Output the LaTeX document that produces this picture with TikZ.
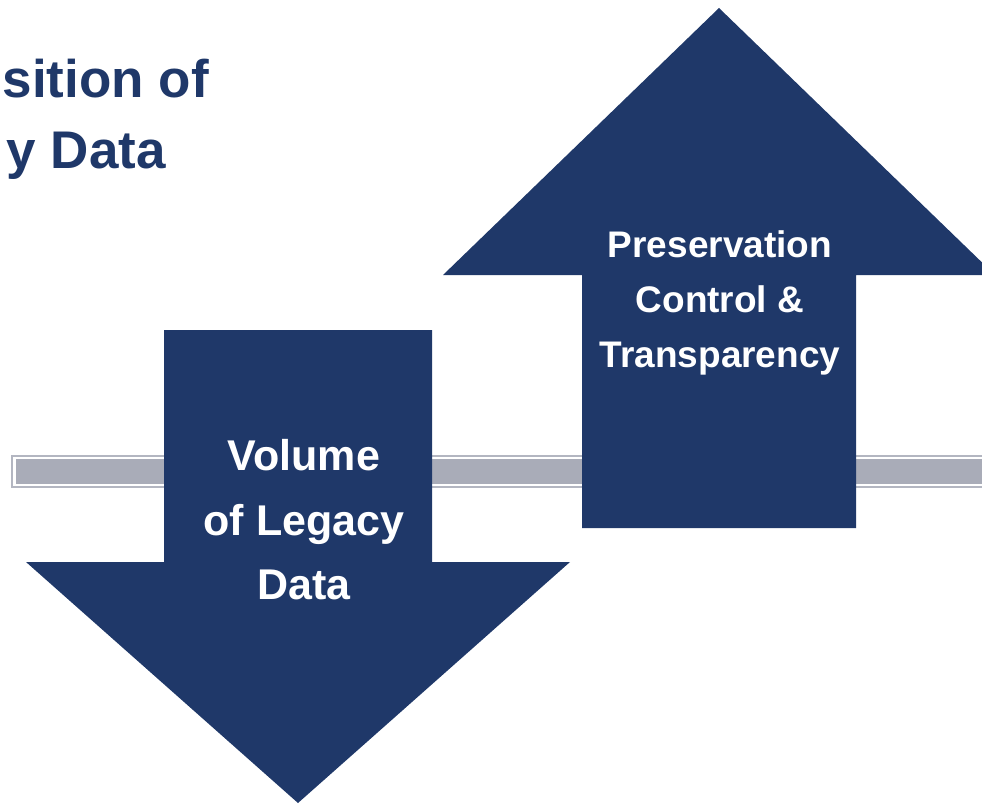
\documentclass[tikz,border=0pt]{standalone}
\usepackage{fontspec}
\setmainfont{Liberation Sans}
\definecolor{navy}{HTML}{1F3869}
\definecolor{bargray}{HTML}{A9ACB8}
\definecolor{barline}{HTML}{B3B6C1}
\tikzset{
  arrowshape/.style={fill=navy, draw=none},
  arrowtext/.style={text=white, align=center, inner sep=0pt, font=\bfseries},
  titletext/.style={text=navy, inner sep=0pt, font=\bfseries\fontsize{53bp}{70bp}\selectfont},
}
\begin{document}
\begin{tikzpicture}[x=1bp, y=-1bp]
\useasboundingbox (0,0) rectangle (982,804);
% horizontal bar
\draw[barline, line width=2bp] (12,456) rectangle (995,487);
\fill[bargray] (16,459) rectangle (995,484);
% up arrow
\fill[arrowshape] (582,528) -- (582,275) -- (443,275) -- (719,8) -- (995,275) -- (856,275) -- (856,528) -- cycle;
% down arrow
\fill[arrowshape] (164,330) -- (432,330) -- (432,562) -- (570,562) -- (298,803) -- (26,562) -- (164,562) -- cycle;
% title (partially visible)
\node[titletext, anchor=base east] (t1) at (209,98) {sition of};
\node[titletext, anchor=base east] (t2) at (166,168) {y Data};
% arrow labels
\node[arrowtext, font=\bfseries\fontsize{43bp}{64.5bp}\selectfont] (vol) at (304,520) {Volume\\of Legacy\\Data};
\node[arrowtext, font=\bfseries\fontsize{37bp}{55bp}\selectfont] (pres) at (720,303) {Preservation\\Control \&\\Transparency};
\end{tikzpicture}
\end{document}
